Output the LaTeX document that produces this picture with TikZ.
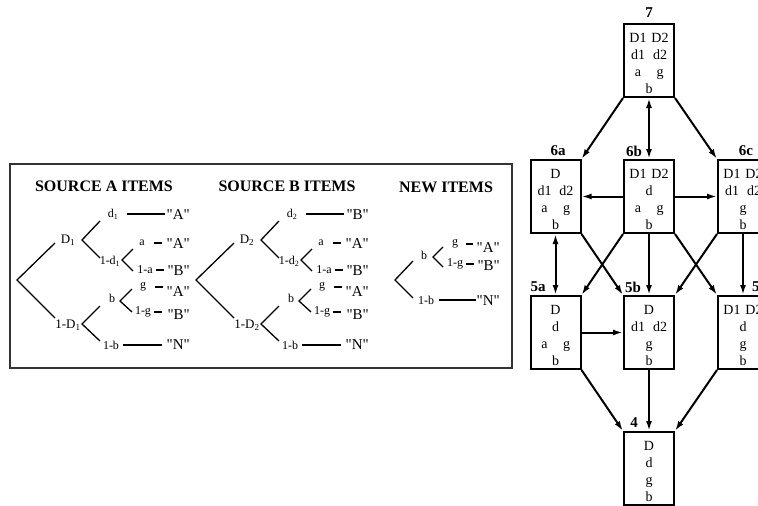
\documentclass[tikz,border=0pt]{standalone}
\usepackage{fontspec}
\setmainfont{Liberation Serif}[Ligatures=TeXOff]
\usetikzlibrary{arrows.meta}
\newcommand\twoc[2]{\makebox[22pt]{#1}\makebox[22pt]{#2}}
\newcommand\srctree[4]{%
\begin{scope}[xshift=#2pt]
\coordinate (#1r) at (17,280);
\coordinate (#1u) at (55,243);
\coordinate (#1l) at (55,318);
\draw[tl] (#1u) -- (#1r) -- (#1l);
\node[dlab] (#1D) at (68,240) {D\textsubscript{#3}};
\coordinate (#1f1) at (82,240);
\coordinate (#1f1u) at (100,221);
\coordinate (#1f1d) at (100,258);
\draw[tl] (#1f1u) -- (#1f1) -- (#1f1d);
\node[small] (#1d) at (113,214) {d\textsubscript{#3}};
\draw[ll] (#1d.east) ++(9,0) -- ++(38,0);
\node[qlab] (#1qd) at (190,215) {"#4"};
\node[small] (#1nd) at (110,261) {1-d\textsubscript{#3}};
\coordinate (#1f2) at (122,260);
\coordinate (#1f2u) at (133,249);
\coordinate (#1f2d) at (133,271);
\draw[tl] (#1f2u) -- (#1f2) -- (#1f2d);
\node[small] (#1a) at (142,243) {a};
\draw[ll] (#1a.east) ++(9,0) -- ++(8,0);
\node[qlab] (#1qa) at (190,244) {"A"};
\node[small] (#1na) at (145,270) {1-a};
\draw[ll] (#1na.east) ++(3,0) -- ++(8,0);
\node[qlab] (#1qna) at (190,271) {"B"};
\node[dlab] (#1nD) at (68,325) {1-D\textsubscript{#3}};
\coordinate (#1f3) at (82,324);
\coordinate (#1f3u) at (100,306);
\coordinate (#1f3d) at (100,341);
\draw[tl] (#1f3u) -- (#1f3) -- (#1f3d);
\node[small] (#1b) at (112,298) {b};
\coordinate (#1f4) at (120,301);
\coordinate (#1f4u) at (132,289);
\coordinate (#1f4d) at (132,312);
\draw[tl] (#1f4u) -- (#1f4) -- (#1f4d);
\node[small] (#1g) at (143,287) {g};
\draw[ll] (#1g.east) ++(9,0) -- ++(8,0);
\node[qlab] (#1qg) at (190,292) {"A"};
\node[small] (#1ng) at (143,312) {1-g};
\draw[ll] (#1ng.east) ++(3,0) -- ++(8,0);
\node[qlab] (#1qng) at (190,315) {"B"};
\node[small] (#1nb) at (111,345) {1-b};
\draw[ll] (#1nb.east) ++(4,0) -- ++(39,0);
\node[qlab] (#1qnb) at (190,345) {"N"};
\end{scope}}
\begin{document}
\begin{tikzpicture}[x=1pt,y=-1pt,
  tl/.style={line width=1.3pt},
  ll/.style={line width=1.5pt},
  small/.style={font=\fontsize{12}{14}\selectfont, inner sep=0pt},
  dlab/.style={font=\fontsize{13}{15}\selectfont, inner sep=0pt},
  qlab/.style={font=\fontsize{15}{17}\selectfont, inner sep=0pt, anchor=east},
  head/.style={font=\fontsize{16}{18}\selectfont\bfseries, inner sep=0pt},
  sbox/.style={draw, line width=2pt, minimum width=50pt, minimum height=73pt, inner sep=0pt},
  btext/.style={font=\fontsize{14}{17}\selectfont, align=center, inner sep=0pt},
  blab/.style={font=\fontsize{15}{17}\selectfont\bfseries, inner sep=0pt},
  arr/.style={line width=2pt, -{Latex[length=10pt,width=6pt]}},
  darr/.style={line width=2pt, {Latex[length=10pt,width=6pt]}-{Latex[length=10pt,width=6pt]}},
]
\useasboundingbox (0,0) rectangle (758,506);
\clip (0,0) rectangle (758,506);
\fill[white] (0,0) rectangle (758,506);

% left panel
\node[draw=black!80, line width=2pt, minimum width=502pt, minimum height=204pt, inner sep=0pt] (frame) at (261,266) {};
\node[head] (hA) at (104,186) {SOURCE A ITEMS};
\node[head] (hB) at (287,186) {SOURCE B ITEMS};
\node[head] (hN) at (446,187) {NEW ITEMS};
\srctree{A}{0}{1}{A}
\srctree{B}{179}{2}{B}

% new items tree
\coordinate (Nr) at (395,280);
\coordinate (Nu) at (413,261);
\coordinate (Nl) at (413,298);
\draw[tl] (Nu) -- (Nr) -- (Nl);
\node[small] (Nb) at (424,255) {b};
\coordinate (Nf) at (433,257);
\coordinate (Nfu) at (443,247);
\coordinate (Nfd) at (443,267);
\draw[tl] (Nfu) -- (Nf) -- (Nfd);
\node[small] (Ng) at (455,244) {g};
\draw[ll] (Ng.east) ++(8,0) -- ++(7,0);
\node[qlab] (NqA) at (500,248) {"A"};
\node[small] (Nng) at (455,264) {1-g};
\draw[ll] (Nng.east) ++(3,0) -- ++(8,0);
\node[qlab] (NqB) at (500,266) {"B"};
\node[small] (Nnb) at (426,300) {1-b};
\draw[ll] (Nnb.east) ++(5,0) -- ++(37,0);
\node[qlab] (NqN) at (500,301) {"N"};

% lattice boxes
\node[sbox] (n7) at (649,60.5) {};
\node[btext] at (649,63.5) {\twoc{D1}{D2}\\\twoc{d1}{d2}\\\twoc{a}{g}\\b};
\node[blab] (l7) at (649,13) {7};

\node[sbox] (n6a) at (555.5,196.5) {};
\node[btext] at (555.5,199.5) {D\\\twoc{d1}{d2}\\\twoc{a}{g}\\b};
\node[blab] (l6a) at (558,151) {6a};

\node[sbox] (n6b) at (649,196.5) {};
\node[btext] at (649,199.5) {\twoc{D1}{D2}\\d\\\twoc{a}{g}\\b};
\node[blab] (l6b) at (634,151) {6b};

\node[sbox] (n6c) at (743,196.5) {};
\node[btext] at (743,199.5) {\twoc{D1}{D2}\\\twoc{d1}{d2}\\g\\b};
\node[blab] (l6c) at (746,151) {6c};

\node[sbox] (n5a) at (555.5,332.5) {};
\node[btext] at (555.5,335.5) {D\\d\\\twoc{a}{g}\\b};
\node[blab] (l5a) at (538,287) {5a};

\node[sbox] (n5b) at (649,332.5) {};
\node[btext] at (649,335.5) {D\\\twoc{d1}{d2}\\g\\b};
\node[blab] (l5b) at (633,287) {5b};

\node[sbox] (n5c) at (743,332.5) {};
\node[btext] at (743,335.5) {\twoc{D1}{D2}\\d\\g\\b};
\node[blab, anchor=west] (l5c) at (752,287) {5c};

\node[sbox] (n4) at (649,468.5) {};
\node[btext] at (649,471.5) {D\\d\\g\\b};
\node[blab] (l4) at (634,423) {4};

% arrows
\draw[arr] (n7.south west) -- (n6a.north east);
\draw[darr] (n7.south) -- (n6b.north);
\draw[arr] (n7.south east) -- (n6c.north west);
\draw[arr] (n6b.west) -- (n6a.east);
\draw[arr] (n6b.east) -- (n6c.west);
\draw[darr] (n6a.south) -- (n5a.north);
\draw[arr] (n6a.south east) -- (n5b.north west);
\draw[arr] (n6b.south west) -- (n5a.north east);
\draw[arr] (n6b.south) -- (n5b.north);
\draw[arr] (n6b.south east) -- (n5c.north west);
\draw[arr] (n6c.south west) -- (n5b.north east);
\draw[arr] (n6c.south) -- (n5c.north);
\draw[arr] (n5a.east) -- (n5b.west);
\draw[arr] (n5a.south east) -- (n4.north west);
\draw[arr] (n5b.south) -- (n4.north);
\draw[arr] (n5c.south west) -- (n4.north east);
\end{tikzpicture}
\end{document}
